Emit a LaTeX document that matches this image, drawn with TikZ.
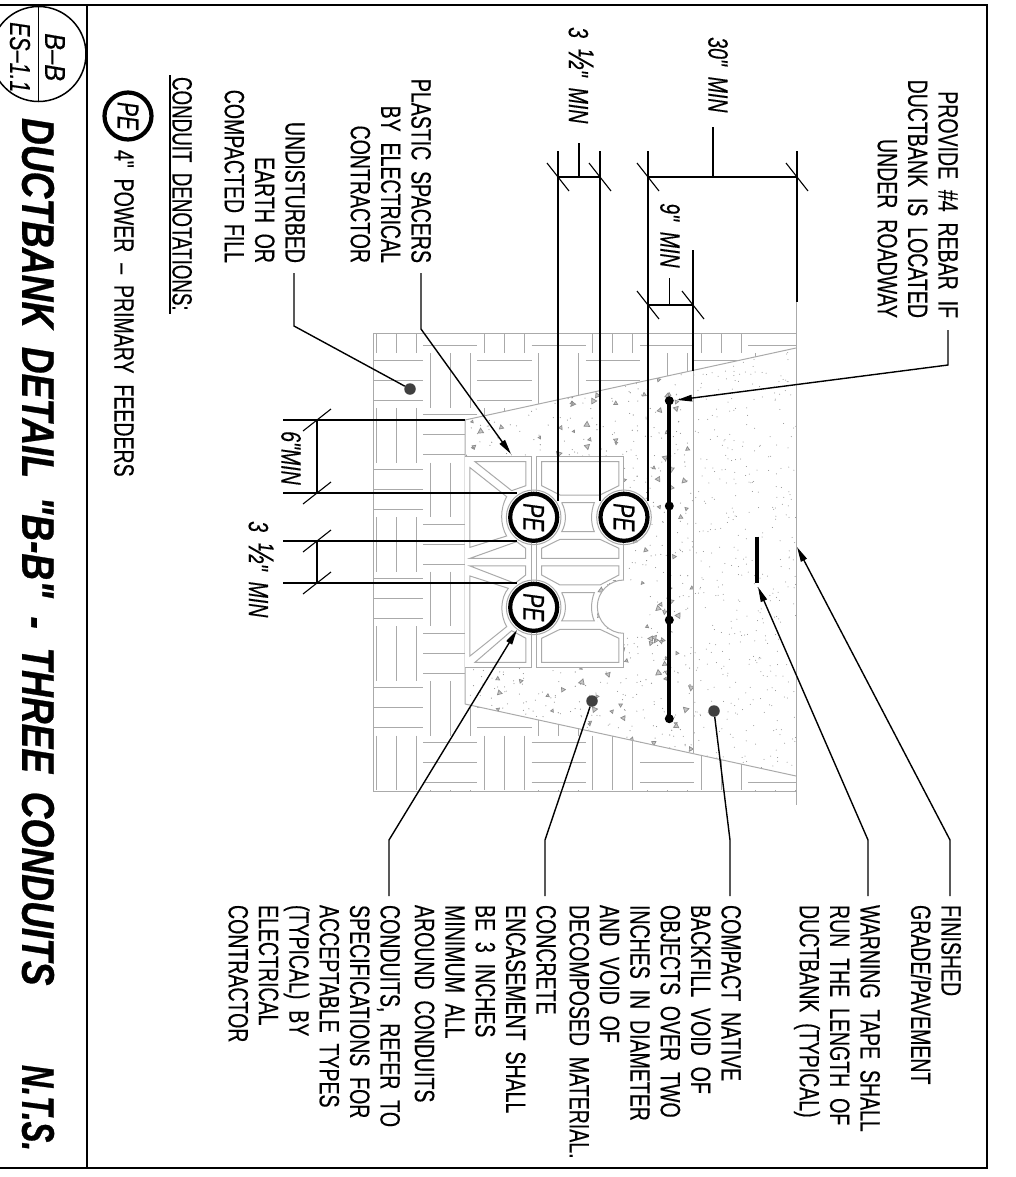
\documentclass[tikz,border=0pt]{standalone}
\usepackage{fontspec}
\usepackage{graphicx}
\usetikzlibrary{arrows.meta}
\newfontfamily\cadf[FakeStretch=0.70,WordSpace=2.0,FakeBold=0.35]{Liberation Sans}
\newfontfamily\cadi[FakeStretch=0.70,WordSpace=2.0,FakeBold=0.35]{Liberation Sans Italic}
\newfontfamily\refi[FakeStretch=0.88,FakeBold=0.3]{Liberation Sans Italic}
\newfontfamily\refj[FakeStretch=0.74,FakeBold=0.3]{Liberation Sans Italic}
\newfontfamily\titf[FakeStretch=0.81,WordSpace=1.8,FakeBold=0.6]{Liberation Sans Bold Italic}
\newfontfamily\ntsf[FakeStretch=0.68,FakeBold=0.6]{Liberation Sans Bold Italic}
\definecolor{hatchg}{HTML}{AAAAAA}
\definecolor{stipg}{HTML}{8C8C8C}
\tikzset{
 x=1bp,y=-1bp,
 frameln/.style={black,line width=1.7bp},
 dimln/.style={black,line width=1.4bp},
 tickln/.style={black,line width=1.1bp},
 leader/.style={black,line width=1.4bp},
 arrowld/.style={leader,-{Triangle[length=15bp,width=6.5bp]}},
 hatchln/.style={hatchg,line width=1bp},
 spacerln/.style={hatchg,line width=1bp},
 lbl/.style={rotate=-90,inner sep=0pt,outer sep=0pt,font=\cadf\fontsize{28}{30.5}\selectfont},
 lblL/.style={lbl,anchor=north west,align=left},
 lblR/.style={lbl,anchor=north east,align=right},
 dimtxt/.style={rotate=-90,inner sep=0pt,font=\cadi\fontsize{28}{30}\selectfont},
 reftxt/.style={rotate=-90,inner sep=0pt,font=\refi\fontsize{29}{30}\selectfont},
 reftxtb/.style={rotate=-90,inner sep=0pt,font=\refj\fontsize{29}{30}\selectfont},
 petxt/.style={circle,draw=black,line width=4.2bp,minimum size=47bp,inner sep=0pt,fill=white,rotate=-90,font=\cadi\fontsize{30}{30}\selectfont},
 refdot/.style={circle,fill=black!75,inner sep=0pt,minimum size=11.5bp},
 rebardot/.style={circle,fill=black,inner sep=0pt,minimum size=9bp},
}
\newcommand{\hlf}{{\fontsize{36}{30}\selectfont ½}}
\begin{document}
\begin{tikzpicture}
\useasboundingbox (0,0) rectangle (1016,1177);
\clip (0,0) rectangle (1016,1177);

% ---- hatching (basketweave) -------
\begin{scope}
\clip (373,333) rectangle (796,791);
\foreach \i in {0,...,8}{
 \foreach \j in {-1,...,8}{
  \pgfmathsetmacro{\bx}{369+54.2*\i}
  \pgfmathsetmacro{\by}{353.3+54.6*\j}
  \pgfmathtruncatemacro{\pty}{mod(\i+\j+20,2)}
  \ifnum\pty=0
   \foreach \o in {7,27,47}{ \draw[hatchln] (\bx,\by+\o) -- (\bx+54.2,\by+\o); }
  \else
   \foreach \o in {7,27,47}{ \draw[hatchln] (\bx+\o,\by) -- (\bx+\o,\by+54.6); }
  \fi
 }
}
\end{scope}
\draw[hatchln] (373,333) rectangle (796,791);
% ---- trench ----
\fill[white] (465,420) -- (796,348) -- (796,776) -- (465,704) -- cycle;
\begin{scope}
\clip (465,420) -- (693,370.5) -- (693,753.5) -- (465,704) -- cycle;
\pgfmathsetseed{4711}
\foreach \n in {1,...,700}{
 \pgfmathsetmacro{\rx}{465+228*rnd}\pgfmathsetmacro{\ry}{370+384*rnd}
 \fill[stipg] (\rx,\ry) circle (0.55bp);
}
\foreach \n in {1,...,210}{
 \pgfmathsetmacro{\rx}{465+228*rnd}\pgfmathsetmacro{\ry}{370+384*rnd}
 \pgfmathsetmacro{\ra}{360*rnd}
 \pgfmathsetmacro{\rs}{1.5+2*rnd}
 \draw[stipg,line width=0.7bp,fill=stipg!50] (\rx,\ry) ++(\ra:\rs) -- ++(\ra+120:\rs*1.7) -- ++(\ra+240:\rs*1.7) -- cycle;
}
\end{scope}
\begin{scope}
\clip (693,370.5) -- (796,348) -- (796,776) -- (693,753.5) -- cycle;
\pgfmathsetseed{815}
\foreach \n in {1,...,420}{
 \pgfmathsetmacro{\rx}{693+103*rnd}\pgfmathsetmacro{\ry}{348+428*rnd}
 \fill[stipg] (\rx,\ry) circle (0.5bp);
}
\end{scope}
\draw[hatchln] (465,704) -- (465,420) -- (796,348);
\draw[hatchln] (465,704) -- (796,776);
\draw[hatchln] (693,371) -- (693,753);
\draw[hatchln] (796,302) -- (796,805);

% ---- spacer, in the zoomed coordinates of the detail --------
\begin{scope}[shift={(360,320)},x=0.33333bp,y=-0.33333bp]
 \fill[white] (315,408) rectangle (792,780);
 \fill[white] (315,780) rectangle (712,1042);
 \fill[white] (712,940) rectangle (792,1042);
 \fill[white] (792,860) circle (80);
 \begin{scope}[spacerln]
 % outer outlines
 \draw (315,408) -- (515,408) -- (515,1042) -- (315,1042);
 \draw (792,665) -- (792,408) -- (530,408) -- (530,1042) -- (792,1042) -- (792,940);
 \draw (792,665) -- (792,780);
 % right pockets
 \draw (545,425) -- (777,425) -- (777,497) -- (720,525) -- (600,525) -- (545,497) -- cycle;
 \draw (605,548) -- (703,548) .. controls (692,575) and (692,610) .. (703,635) -- (605,635) .. controls (620,610) and (620,575) .. (605,548);
 \draw (545,715) -- (777,715) -- (777,685) -- (720,658) -- (600,658) -- (545,685) -- cycle;
 \draw (545,738) -- (777,738) -- (777,765) -- (720,795) -- (600,795) -- (545,765) -- cycle;
 \draw (605,818) -- (703,818) .. controls (692,845) and (692,880) .. (703,903) -- (605,903) .. controls (620,880) and (620,845) .. (605,818);
 \draw (545,1027) -- (777,1027) -- (777,955) -- (720,928) -- (600,928) -- (545,955) -- cycle;
 % left pockets
 \draw (345,425) -- (498,425) -- (498,497) -- (455,512) -- cycle;
 \draw (330,443) -- (440,530) .. controls (420,565) and (420,615) .. (440,648) -- (330,682) -- cycle;
 \draw (330,715) -- (497,715) -- (497,685) -- (470,665) -- cycle;
 \draw (330,738) -- (497,738) -- (497,765) -- (465,790) -- cycle;
 \draw (330,768) -- (445,805) .. controls (420,835) and (420,885) .. (440,920) -- (330,1008) -- cycle;
 \draw (345,1027) -- (498,1027) -- (498,955) -- (455,932) -- cycle;
 % void of the fourth conduit and halos
 \draw (792,940) arc (90:270:80);
 \draw (521,592) circle (82);
 \draw (792,592) circle (82);
 \draw (521,862) circle (82);
 \end{scope}
\end{scope}

% ---- dimension and extension lines ----
\node[petxt] (pe1) at (533.7,517.3) {PE};
\node[petxt] (pe2) at (624,517.3) {PE};
\node[petxt] (pe3) at (533.7,607.3) {PE};

\coordinate (xa) at (558,151); \coordinate (xb) at (600,151);
\coordinate (xc) at (648,151); \coordinate (xd) at (797,151);
\coordinate (xa2) at (558,501); \coordinate (xb2) at (600,501);
\coordinate (xc2) at (648,501); \coordinate (xd2) at (797,302);
\coordinate (xe) at (693,250); \coordinate (xe2) at (693,371);
\draw[dimln] (xa) -- (xa2); \draw[dimln] (xb) -- (xb2);
\draw[dimln] (xc) -- (xc2); \draw[dimln] (xd) -- (xd2);
\draw[dimln] (xe) -- (xe2);
\coordinate (da) at (558,177); \coordinate (db) at (600,177);
\coordinate (dc) at (648,177); \coordinate (dd) at (797,177);
\coordinate (de) at (648,305); \coordinate (df) at (693,305);
\draw[dimln] (da) -- (db); \draw[dimln] (dc) -- (dd); \draw[dimln] (de) -- (df);
\foreach \p in {da,db,dc,dd,de,df}{
 \draw[tickln] ([xshift=-11bp,yshift=14bp]\p) -- ([xshift=11bp,yshift=-14bp]\p);
}
\coordinate (ya) at (283,420); \coordinate (yb) at (283,493);
\coordinate (yc) at (283,541); \coordinate (yd) at (283,583);
\coordinate (ya2) at (465,420); \coordinate (yb2) at (517,493);
\coordinate (yc2) at (517,541); \coordinate (yd2) at (517,583);
\draw[dimln] (ya) -- (ya2); \draw[dimln] (yb) -- (yb2);
\draw[dimln] (yc) -- (yc2); \draw[dimln] (yd) -- (yd2);
\coordinate (ea) at (317,420); \coordinate (eb) at (317,493);
\coordinate (ec) at (317,541); \coordinate (ed) at (317,583);
\draw[dimln] (ea) -- (eb); \draw[dimln] (ec) -- (ed);
\foreach \p in {ea,eb,ec,ed}{
 \draw[tickln] ([xshift=-14bp,yshift=-11bp]\p) -- ([xshift=14bp,yshift=11bp]\p);
}
% dim leaders
\coordinate (l30) at (713,127); \coordinate (l30b) at (713,177);
\draw[leader] (l30) -- (l30b);
\coordinate (l35) at (579,143); \coordinate (l35b) at (579,177);
\draw[leader] (l35) -- (l35b);
\coordinate (l9) at (669.5,278); \coordinate (l9b) at (669.5,305);
\draw[leader] (l9) -- (l9b);

% dim texts
\node[dimtxt,anchor=west] (t30) at (718,37) {30" MIN};
\node[dimtxt,anchor=west] (t35) at (581,27) {3 \hlf" MIN};
\node[dimtxt,anchor=west] (t9) at (670,203) {9" MIN};
\node[dimtxt,anchor=west] (t6) at (291,431) {6"MIN};
\node[dimtxt,anchor=west] (t35b) at (261,521) {3 \hlf" MIN};

% ---- rebar / tape ----
\coordinate (ra) at (669.3,400.7); \coordinate (rb) at (669.3,718.7);
\draw[black,line width=4bp] (ra) -- (rb);
\node[rebardot] (r1) at (ra) {};
\node[rebardot] (r2) at (669.3,506) {};
\node[rebardot] (r3) at (669.3,620) {};
\node[rebardot] (r4) at (rb) {};
\coordinate (ta) at (757,536.7); \coordinate (tb) at (757,582.7);
\draw[black,line width=4.5bp] (ta) -- (tb);

% ---- label dots ----
\node[refdot] (d1) at (410,389) {};
\node[refdot] (d2) at (592,701) {};
\node[refdot] (d3) at (714,711) {};

% ---- texts top ----
\node[lblR] (tprov) at (958,318) {PROVIDE \#4 REBAR IF\\DUCTBANK IS LOCATED\\UNDER ROADWAY};
\node[lblR] (tplas) at (431,263) {PLASTIC SPACERS\\BY ELECTRICAL\\CONTRACTOR};
\node[lblR] (tund) at (305,263) {UNDISTURBED\\EARTH OR\\COMPACTED FILL};
% ---- texts right ----
\node[lblL] (tfin) at (961,905) {FINISHED\\GRADE/PAVEMENT};
\node[lblL] (twar) at (880,905) {WARNING TAPE SHALL\\RUN THE LENGTH OF\\DUCTBANK (TYPICAL)};
\node[lblL] (tcom) at (741,905) {COMPACT NATIVE\\BACKFILL VOID OF\\OBJECTS OVER TWO\\INCHES IN DIAMETER\\AND VOID OF\\DECOMPOSED MATERIAL.};
\node[lblL] (tcon) at (556,905) {CONCRETE\\ENCASEMENT SHALL\\BE 3 INCHES\\MINIMUM ALL\\AROUND CONDUITS};
\node[lblL] (tcnd) at (400,905) {CONDUITS, REFER TO\\SPECIFICATIONS FOR\\ACCEPTABLE TYPES\\(TYPICAL) BY\\ELECTRICAL\\CONTRACTOR};

% ---- leaders ----
\coordinate (pa) at (948,330); \coordinate (pb) at (948,365); \coordinate (pc) at (677,400);
\draw[arrowld] (pa) -- (pb) -- (pc);
\coordinate (sa) at (421,273); \coordinate (sb) at (421,329); \coordinate (sc) at (511,454);
\draw[arrowld] (sa) -- (sb) -- (sc);
\coordinate (ua) at (294,273); \coordinate (ub) at (294,326);
\draw[leader] (ua) -- (ub) -- (d1);
\coordinate (fa) at (950,896); \coordinate (fb) at (950,840); \coordinate (fc) at (797,547);
\draw[arrowld] (fa) -- (fb) -- (fc);
\coordinate (wa) at (868,896); \coordinate (wb) at (868,840); \coordinate (wc) at (758,587);
\draw[arrowld] (wa) -- (wb) -- (wc);
\coordinate (ca) at (730,896); \coordinate (cb) at (730,840);
\draw[leader] (ca) -- (cb) -- (d3);
\coordinate (ea2) at (545,896); \coordinate (eb2) at (545,840);
\draw[leader] (ea2) -- (eb2) -- (d2);
\coordinate (ga) at (389,896); \coordinate (gb) at (389,840); \coordinate (gc) at (517,630);
\draw[arrowld] (ga) -- (gb) -- (gc);

% ---- legend ----
\node[lblL,font=\cadf\fontsize{28}{30}\selectfont] (lden) at (192,77) {\scalebox{0.96}[1]{CONDUIT DENOTATIONS:}};
\coordinate (ula) at (170,75); \coordinate (ulb) at (170,314);
\draw[dimln] (ula) -- (ulb);
\node[petxt] (pel) at (128,116) {PE};
\node[lbl,anchor=west] (l4) at (124,150) {4" POWER – PRIMARY FEEDERS};

% ---- title block ----
\node[lbl,anchor=west,font=\titf\fontsize{46}{46}\selectfont] (ttl) at (38,118) {DUCTBANK DETAIL "B-B" - THREE CONDUITS};
\node[lbl,anchor=west,font=\ntsf\fontsize{46}{46}\selectfont] (nts) at (38,1065) {N.T.S.};
\node[circle,draw=black,line width=1.5bp,minimum size=95bp,inner sep=0pt] (cref) at (38.5,54) {};
\draw[black,line width=1.5bp] (cref.north) -- (cref.south);
\node[reftxt,anchor=west] (tbb) at (55,33) {B–B};
\node[reftxtb,anchor=west] (tes) at (20,22) {ES–1.1};

% ---- frame ----
\coordinate (f1) at (0,5.3); \coordinate (f2) at (987,5.3);
\coordinate (f3) at (987,1168); \coordinate (f4) at (0,1168);
\coordinate (f5) at (87,5.3); \coordinate (f6) at (87,1168);
\draw[frameln] (f1) -- (f2) -- (f3) -- (f4);
\draw[frameln] (f5) -- (f6);
\end{tikzpicture}
\end{document}
